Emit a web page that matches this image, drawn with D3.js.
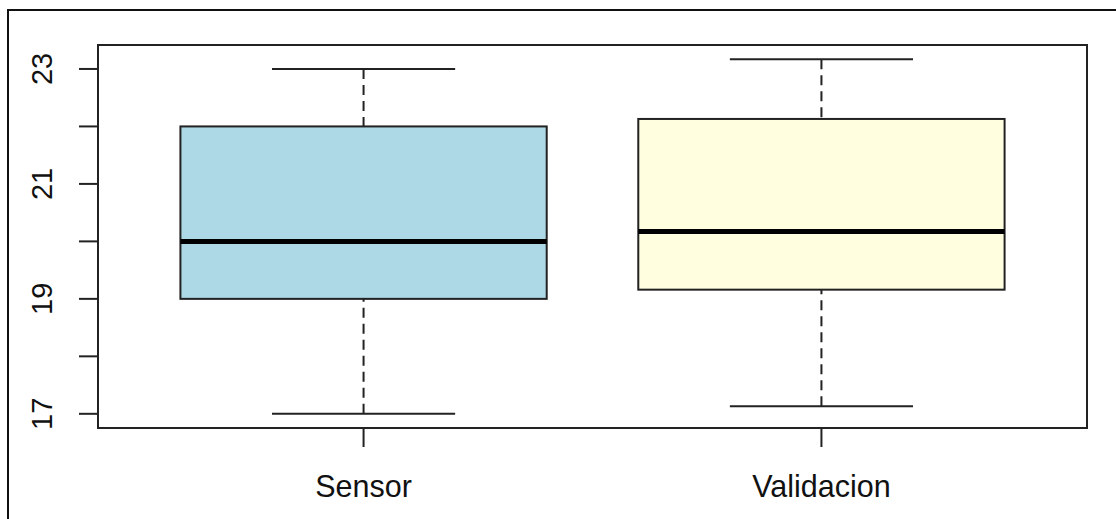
<!DOCTYPE html>
<html>
<head>
  <meta charset="utf-8">
  <script src="https://d3js.org/d3.v7.min.js"></script>
  <style type="text/css">
    body { margin: 0; background: #fff; }
    text { font-family: "Liberation Sans", Arial, sans-serif; fill: #111; }
  </style>
</head>
<body>
<script type="text/javascript">
  // five-number summaries
  var groups = ["Sensor", "Validacion"];
  var mins    = [17,    17.13];
  var q1s     = [19,    19.16];
  var medians = [20,    20.17];
  var q3s     = [22,    22.13];
  var maxs    = [23,    23.17];
  var fills   = ["#ADD8E6", "#FFFFE0"];
  var yTicks  = [17, 18, 19, 20, 21, 22, 23];
  var yLabels = [17, 19, 21, 23];

  var W = 1116, H = 519;
  // note: "top" is a reserved window prop, so use plot* names
  var plotL = 98, plotR = 1087, plotT = 45, plotB = 428;

  var svg = d3.select("body").append("svg")
      .attr("width", W)
      .attr("height", H);

  // screenshot frame
  svg.append("path")
      .attr("d", "M8," + H + "V10H" + W)
      .attr("fill", "none")
      .attr("stroke", "#111")
      .attr("stroke-width", 2);

  // R-style 4% padding on both axes
  var lo = d3.min(mins), hi = d3.max(maxs), pad = (hi - lo) * 0.04;
  var y = d3.scaleLinear().domain([lo - pad, hi + pad]).range([plotB, plotT]);
  var x = d3.scaleLinear().domain([0.42, groups.length + 0.58]).range([plotL, plotR]);

  var ink = "#222";

  // y axis ticks
  var ya = svg.append("g");
  ya.selectAll("line").data(yTicks).enter().append("line")
      .attr("x1", plotL - 19).attr("x2", plotL)
      .attr("y1", function(d) { return y(d); })
      .attr("y2", function(d) { return y(d); })
      .attr("stroke", ink).attr("stroke-width", 2);
  ya.selectAll("text").data(yLabels).enter().append("text")
      .attr("transform", function(d) { return "translate(52," + y(d) + ") rotate(-90)"; })
      .attr("text-anchor", "middle")
      .style("font-size", "29px")
      .text(function(d) { return d; });

  // x axis ticks + labels
  var xa = svg.append("g");
  xa.selectAll("line").data(groups).enter().append("line")
      .attr("x1", function(d, i) { return x(i + 1); })
      .attr("x2", function(d, i) { return x(i + 1); })
      .attr("y1", plotB).attr("y2", plotB + 19)
      .attr("stroke", ink).attr("stroke-width", 2);
  xa.selectAll("text").data(groups).enter().append("text")
      .attr("x", function(d, i) { return x(i + 1); })
      .attr("y", 497)
      .attr("text-anchor", "middle")
      .style("font-size", "30.5px")
      .text(function(d) { return d; });

  // boxes
  var bw = 0.4, cw = 0.2;
  var g = svg.selectAll("g.box").data(groups).enter().append("g").attr("class", "box");

  g.append("line") // upper whisker
      .attr("x1", function(d, i) { return x(i + 1); })
      .attr("x2", function(d, i) { return x(i + 1); })
      .attr("y1", function(d, i) { return y(maxs[i]); })
      .attr("y2", function(d, i) { return y(q3s[i]); })
      .attr("stroke", ink).attr("stroke-width", 2).attr("stroke-dasharray", "10,6");
  g.append("line") // lower whisker
      .attr("x1", function(d, i) { return x(i + 1); })
      .attr("x2", function(d, i) { return x(i + 1); })
      .attr("y1", function(d, i) { return y(mins[i]); })
      .attr("y2", function(d, i) { return y(q1s[i]); })
      .attr("stroke", ink).attr("stroke-width", 2).attr("stroke-dasharray", "10,6");

  [maxs, mins].forEach(function(arr) {
    g.append("line")
        .attr("x1", function(d, i) { return x(i + 1 - cw); })
        .attr("x2", function(d, i) { return x(i + 1 + cw); })
        .attr("y1", function(d, i) { return y(arr[i]); })
        .attr("y2", function(d, i) { return y(arr[i]); })
        .attr("stroke", ink).attr("stroke-width", 2);
  });

  g.append("rect")
      .attr("x", function(d, i) { return x(i + 1 - bw); })
      .attr("width", function(d, i) { return x(i + 1 + bw) - x(i + 1 - bw); })
      .attr("y", function(d, i) { return y(q3s[i]); })
      .attr("height", function(d, i) { return y(q1s[i]) - y(q3s[i]); })
      .attr("fill", function(d, i) { return fills[i]; })
      .attr("stroke", ink).attr("stroke-width", 2);

  g.append("line")
      .attr("x1", function(d, i) { return x(i + 1 - bw); })
      .attr("x2", function(d, i) { return x(i + 1 + bw); })
      .attr("y1", function(d, i) { return y(medians[i]); })
      .attr("y2", function(d, i) { return y(medians[i]); })
      .attr("stroke", "#000").attr("stroke-width", 5);

  // plot frame
  svg.append("rect")
      .attr("x", plotL).attr("y", plotT)
      .attr("width", plotR - plotL).attr("height", plotB - plotT)
      .attr("fill", "none")
      .attr("stroke", ink).attr("stroke-width", 2);
</script>
</body>
</html>
